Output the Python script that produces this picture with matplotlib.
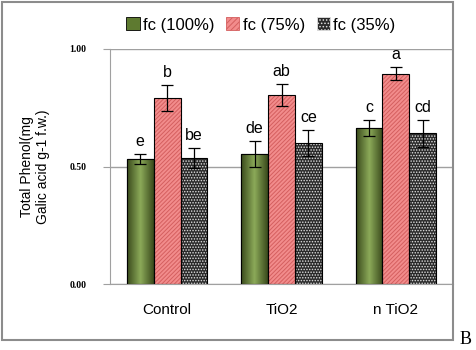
import matplotlib
matplotlib.use('Agg')
import matplotlib.pyplot as plt
import matplotlib.patches as mpatches
import numpy as np

# data
groups = ['Control', 'TiO2', 'n TiO2']
series = ['fc (100%)', 'fc (75%)', 'fc (35%)']
fc100 = [0.532, 0.552, 0.663]
fc75 = [0.790, 0.804, 0.894]
fc35 = [0.537, 0.600, 0.641]
err100 = [0.023, 0.055, 0.035]
err75 = [0.055, 0.047, 0.028]
err35 = [0.043, 0.055, 0.057]
let100 = ['e', 'de', 'c']
let75 = ['b', 'ab', 'a']
let35 = ['be', 'ce', 'cd']
yticks = [0.0, 0.5, 1.0]

plt.rcParams['font.family'] = ['Liberation Sans', 'DejaVu Sans']
plt.rcParams['hatch.linewidth'] = 0.7

fig = plt.figure(figsize=(4.76, 3.5), dpi=100)
# outer chart frame
fig.patches.append(mpatches.Rectangle((2 / 476, 10 / 350), 451 / 476, 338 / 350,
                                      transform=fig.transFigure, fill=False,
                                      edgecolor='#8c8c8c', linewidth=1.5))
ax = fig.add_axes([110 / 476, 66 / 350, 343 / 476, 235 / 350])

x = np.arange(len(groups))
w = 0.235
offsets = [-w, 0, w]
grad = np.abs(np.linspace(-1, 1, 64)).reshape(1, -1)
green_cmap = matplotlib.colors.LinearSegmentedColormap.from_list('g', ['#8aa858', '#3a4a1c'])

ax.set_xlim(-0.5, 2.5)
ax.set_ylim(0, 1.0)

# fc 100% - green with cylinder shading
bars = ax.bar(x + offsets[0], fc100, w, color='#5e7a30', edgecolor='black', linewidth=0.8, zorder=2)
for b in bars:
    im = ax.imshow(grad, extent=[b.get_x(), b.get_x() + b.get_width(), 0, b.get_height()],
                   aspect='auto', cmap=green_cmap, zorder=2.5)
    im.set_clip_path(b)
ax.bar(x + offsets[0], fc100, w, fill=False, edgecolor='black', linewidth=0.8, zorder=3)

# fc 75% - pink with diagonal hatch
ax.bar(x + offsets[1], fc75, w, color='#f28c8c', edgecolor='#d45f5f', hatch='////////',
       linewidth=0, zorder=2)
ax.bar(x + offsets[1], fc75, w, fill=False, edgecolor='black', linewidth=0.8, zorder=3)

# fc 35% - black dotted
ax.bar(x + offsets[2], fc35, w, color='#2a2a2a', edgecolor='#e0e0e0', hatch='......',
       linewidth=0, zorder=2)
ax.bar(x + offsets[2], fc35, w, fill=False, edgecolor='black', linewidth=0.8, zorder=3)

for vals, errs, lets, off in [(fc100, err100, let100, offsets[0]),
                              (fc75, err75, let75, offsets[1]),
                              (fc35, err35, let35, offsets[2])]:
    ax.errorbar(x + off, vals, yerr=errs, fmt='none', ecolor='black', elinewidth=0.9,
                capsize=4, capthick=0.9, zorder=4)
    for xi, v, e, t in zip(x + off, vals, errs, lets):
        ax.annotate(t, (xi, v + e), xytext=(0, 9), textcoords='offset points',
                    ha='center', va='center', fontsize=11.5, zorder=5)

ax.set_yticks(yticks)
ax.set_yticklabels(['%.2f' % t for t in yticks], family='Liberation Serif',
                   fontweight='bold', fontsize=7)
ax.set_xticks(x)
ax.set_xticklabels(groups, fontsize=11)
ax.tick_params(axis='y', length=5, color='#a0a0a0', pad=12)
ax.tick_params(axis='x', length=0, pad=14)
ax.grid(axis='y', color='#a0a0a0', linewidth=1, zorder=0)
for s in ['top', 'right']:
    ax.spines[s].set_visible(False)
for s in ['left', 'bottom']:
    ax.spines[s].set_color('#a0a0a0')

ax.set_ylabel('Total Phenol(mg\nGalic acid g-1 f.w.)', fontsize=10, labelpad=14)

handles = [mpatches.Patch(facecolor='#5e7a30', edgecolor='black', linewidth=0.6),
           mpatches.Patch(facecolor='#f28c8c', edgecolor='#d45f5f', hatch='//////', linewidth=0.6),
           mpatches.Patch(facecolor='#2a2a2a', edgecolor='#e0e0e0', hatch='.....', linewidth=0.6)]
fig.legend(handles, series, loc='center', bbox_to_anchor=(261 / 476, 1 - 25 / 350),
           ncol=3, frameon=False, fontsize=12, handlelength=0.8, handleheight=0.8,
           handletextpad=0.2, columnspacing=0.7)

fig.text(466 / 476, 1 - 340 / 350, 'B', family='Liberation Serif', fontsize=13,
         ha='center', va='center')

fig.savefig('out.png', dpi=100)
